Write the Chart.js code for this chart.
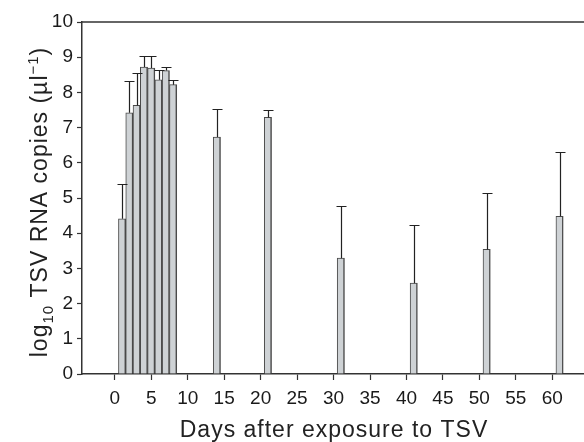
<!DOCTYPE html>
<html>
<head>
<meta charset="utf-8">
<script src="https://cdn.jsdelivr.net/npm/chart.js@4/dist/chart.umd.min.js"></script>
<style>
  html, body { margin: 0; padding: 0; background: #fff; }
  #wrap { width: 584px; height: 442px; }
</style>
</head>
<body>
<div id="wrap"><canvas id="chart" width="584" height="442"></canvas></div>
<script>
const days = [1, 2, 3, 4, 5, 6, 7, 8, 14, 21, 31, 41, 51, 61];
const means = [4.41, 7.42, 7.63, 8.72, 8.69, 8.36, 8.62, 8.22, 6.73, 7.29, 3.29, 2.58, 3.54, 4.48];
const errors = [0.98, 0.91, 0.91, 0.32, 0.33, 0.29, 0.11, 0.14, 0.81, 0.20, 1.49, 1.64, 1.61, 1.84];
const xTicks = [0, 5, 10, 15, 20, 25, 30, 35, 40, 45, 50, 55, 60];
const yTicks = [0, 1, 2, 3, 4, 5, 6, 7, 8, 9, 10];

const FONT = '"Liberation Sans", Arial, Helvetica, sans-serif';
const ctx = document.getElementById('chart');

// upper error bars with caps
const errorBars = {
  id: 'errorBars',
  afterDatasetsDraw(chart) {
    const c = chart.ctx, x = chart.scales.x, y = chart.scales.y;
    c.save();
    c.strokeStyle = '#222';
    c.lineWidth = 1.2;
    days.forEach((d, i) => {
      const px = Math.round(x.getPixelForValue(d)) + 0.5;
      const top = y.getPixelForValue(means[i]);
      const cap = Math.round(y.getPixelForValue(means[i] + errors[i])) + 0.5;
      c.beginPath();
      c.moveTo(px, top);
      c.lineTo(px, cap);
      c.moveTo(px - 5, cap);
      c.lineTo(px + 5, cap);
      c.stroke();
    });
    c.restore();
  }
};

// frame top line and axis titles
const decor = {
  id: 'decor',
  afterDraw(chart) {
    const c = chart.ctx, a = chart.chartArea;
    c.save();
    c.strokeStyle = '#333';
    c.lineWidth = 1.5;
    c.beginPath();
    c.moveTo(a.left, a.top);
    c.lineTo(a.right, a.top);
    c.stroke();

    c.fillStyle = '#222';
    c.textBaseline = 'alphabetic';
    c.letterSpacing = '1px';
    c.font = '23px ' + FONT;
    c.textAlign = 'center';
    c.fillText('Days after exposure to TSV', 334, 437);

    // y title, rotated, built from pieces for sub/superscript
    const parts = [
      ['log', 23, 0], ['10', 15, 6], [' TSV RNA copies (µl', 23, 0], ['\u22121', 15, -9], [')', 23, 0]
    ];
    let total = 0;
    parts.forEach(p => { c.font = p[1] + 'px ' + FONT; total += c.measureText(p[0]).width; });
    c.translate(47, 202);
    c.rotate(-Math.PI / 2);
    c.textAlign = 'left';
    let cx = -total / 2;
    parts.forEach(p => {
      c.font = p[1] + 'px ' + FONT;
      c.fillText(p[0], cx, p[2]);
      cx += c.measureText(p[0]).width;
    });
    c.restore();
  }
};

new Chart(ctx, {
  type: 'bar',
  data: {
    datasets: [{
      data: days.map((d, i) => ({ x: d, y: means[i] })),
      backgroundColor: '#ced2d5',
      borderColor: '#4a4a4a',
      borderWidth: { left: 1, right: 1.5, top: 1, bottom: 0 },
      borderSkipped: false,
      barPercentage: 1,
      categoryPercentage: 1
    }]
  },
  options: {
    responsive: false,
    animation: false,
    layout: { padding: { top: 22, right: 0, left: 0, bottom: 0 } },
    scales: {
      x: {
        type: 'linear',
        offset: false,
        min: -4.5,
        max: 64.35,
        afterBuildTicks: s => { s.ticks = xTicks.map(v => ({ value: v })); },
        afterFit: s => { s.height = 68; },
        grid: { offset: false, drawOnChartArea: false, tickLength: 6, tickColor: '#333', tickWidth: 1.2 },
        border: { color: '#333', width: 1.5 },
        ticks: { color: '#1a1a1a', font: { family: FONT, size: 19 }, padding: 7, maxRotation: 0, autoSkip: false }
      },
      y: {
        min: 0,
        max: 10,
        afterBuildTicks: s => { s.ticks = yTicks.map(v => ({ value: v })); },
        afterFit: s => { s.width = 82; },
        grid: { drawOnChartArea: false, tickLength: 5, tickColor: '#333', tickWidth: 1.2 },
        border: { color: '#333', width: 1.5 },
        ticks: { color: '#1a1a1a', font: { family: FONT, size: 19 }, padding: 4 }
      }
    },
    plugins: {
      legend: { display: false },
      tooltip: { enabled: false }
    }
  },
  plugins: [errorBars, decor]
});
</script>
</body>
</html>
